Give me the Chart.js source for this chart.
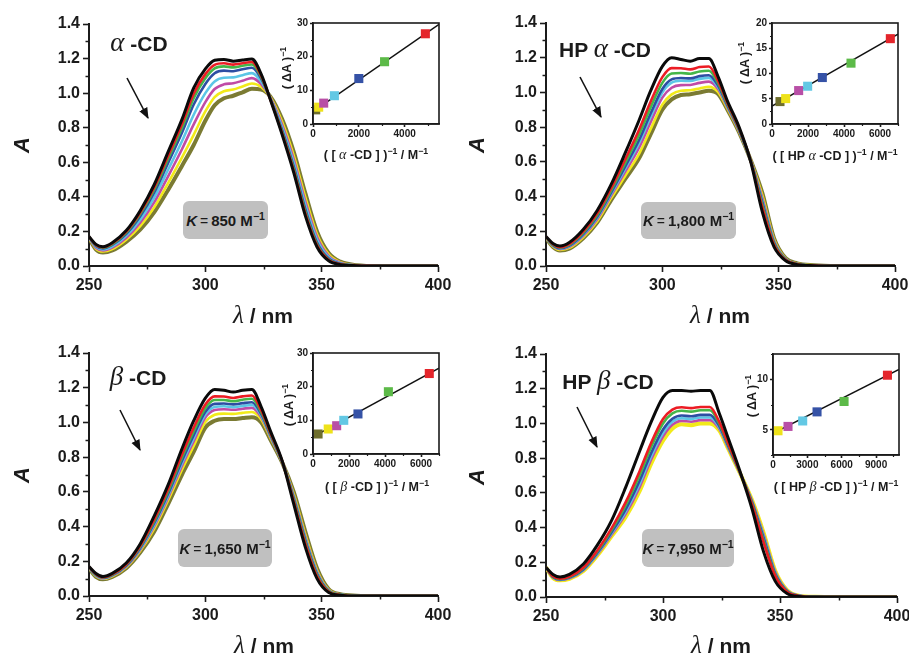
<!DOCTYPE html>
<html>
<head>
<meta charset="utf-8">
<title>CD titration spectra</title>
<script src="https://cdn.jsdelivr.net/npm/chart.js@4.4.1/dist/chart.umd.min.js"></script>
<style>
  html, body { margin: 0; padding: 0; background: #fff; }
  body { position: relative; width: 909px; height: 655px; overflow: hidden;
         font-family: 'Liberation Sans', Arial, sans-serif; color: #1b1b1b; }
  canvas { position: absolute; }
  .t { position: absolute; transform: translate(-50%, -50%); white-space: nowrap; font-weight: bold; }
  .rot { transform: translate(-50%, -50%) rotate(-90deg); }
  .gr { font-family: 'Liberation Serif', 'DejaVu Serif', serif; font-style: italic; font-weight: normal; }
  .xt { font-size: 21px; }
  .xt .gr { font-size: 25px; }
  .yt { font-size: 22px; font-style: italic; }
  .tag { font-size: 21px; }
  .tag .gr { font-size: 27px; }
  .ins { font-size: 12.5px; }
  .ins .gr { font-size: 14px; }
  .kbox { position: absolute; background: #c0c0c0; border-radius: 6px; display: flex;
          align-items: center; justify-content: center; font-weight: bold; font-size: 15px; }
  .kbox i { font-style: italic; margin-right: 3px; }
  .kbox .eq { font-weight: normal; font-size: 14px; margin-right: 3px; }
  sup { font-size: 0.7em; vertical-align: 0.6em; line-height: 0; }
</style>
</head>
<body>
<canvas id="alphaMain" width="460" height="330" style="left:0;top:0"></canvas>
<canvas id="hpAlphaMain" width="460" height="330" style="left:455px;top:0"></canvas>
<canvas id="betaMain" width="460" height="325" style="left:0;top:330px"></canvas>
<canvas id="hpBetaMain" width="460" height="325" style="left:455px;top:330px"></canvas>

<canvas id="alphaInset" width="158" height="132" style="left:291px;top:12px"></canvas>
<canvas id="hpAlphaInset" width="158" height="132" style="left:750px;top:12px"></canvas>
<canvas id="betaInset" width="158" height="132" style="left:291px;top:342px"></canvas>
<canvas id="hpBetaInset" width="158" height="132" style="left:751px;top:343px"></canvas>

<!-- axis titles -->
<div class="t xt" style="left:263px;top:315px"><span class="gr">λ</span> / nm</div>
<div class="t xt" style="left:720px;top:315px"><span class="gr">λ</span> / nm</div>
<div class="t xt" style="left:264px;top:645px"><span class="gr">λ</span> / nm</div>
<div class="t xt" style="left:721px;top:645px"><span class="gr">λ</span> / nm</div>
<div class="t yt rot" style="left:22px;top:145px">A</div>
<div class="t yt rot" style="left:477px;top:145px">A</div>
<div class="t yt rot" style="left:22px;top:475px">A</div>
<div class="t yt rot" style="left:477px;top:477px">A</div>

<!-- host labels -->
<div class="t tag" style="left:139px;top:42px"><span class="gr">α</span> -CD</div>
<div class="t tag" style="left:605px;top:48px">HP <span class="gr">α</span> -CD</div>
<div class="t tag" style="left:138px;top:376px"><span class="gr">β</span> -CD</div>
<div class="t tag" style="left:608px;top:380px">HP <span class="gr">β</span> -CD</div>

<!-- binding constants -->
<div class="kbox" style="left:183px;top:201px;width:85px;height:38px"><span><i>K</i><span class="eq">=</span>850 M<sup>−1</sup></span></div>
<div class="kbox" style="left:641px;top:202px;width:95px;height:37px"><span><i>K</i><span class="eq">=</span>1,800 M<sup>−1</sup></span></div>
<div class="kbox" style="left:178px;top:529px;width:94px;height:38px"><span><i>K</i><span class="eq">=</span>1,650 M<sup>−1</sup></span></div>
<div class="kbox" style="left:642px;top:529px;width:92px;height:38px"><span><i>K</i><span class="eq">=</span>7,950 M<sup>−1</sup></span></div>

<!-- inset titles -->
<div class="t ins rot" style="left:287px;top:68px">( ΔA )<sup>−1</sup></div>
<div class="t ins rot" style="left:745px;top:63px">( ΔA )<sup>−1</sup></div>
<div class="t ins rot" style="left:289px;top:405px">( ΔA )<sup>−1</sup></div>
<div class="t ins rot" style="left:752px;top:396px">( ΔA )<sup>−1</sup></div>
<div class="t ins" style="left:376px;top:155px">( [ <span class="gr">α</span> -CD ] )<sup>−1</sup> / M<sup>−1</sup></div>
<div class="t ins" style="left:835px;top:156px">( [ HP <span class="gr">α</span> -CD ] )<sup>−1</sup> / M<sup>−1</sup></div>
<div class="t ins" style="left:377px;top:487px">( [ <span class="gr">β</span> -CD ] )<sup>−1</sup> / M<sup>−1</sup></div>
<div class="t ins" style="left:836px;top:487px">( [ HP <span class="gr">β</span> -CD ] )<sup>−1</sup> / M<sup>−1</sup></div>

<!-- arrows showing the direction of change -->
<svg width="909" height="655" style="position:absolute;left:0;top:0;pointer-events:none">
  <defs>
    <marker id="ah" viewBox="0 0 10 10" refX="9" refY="5" markerWidth="7" markerHeight="7" orient="auto">
      <path d="M0,1 L10,5 L0,9 z" fill="#111"/>
    </marker>
  </defs>
  <line x1="127" y1="78" x2="148" y2="118" stroke="#111" stroke-width="1.6" marker-end="url(#ah)"/>
  <line x1="580" y1="77" x2="601" y2="117" stroke="#111" stroke-width="1.6" marker-end="url(#ah)"/>
  <line x1="120" y1="410" x2="140" y2="450" stroke="#111" stroke-width="1.6" marker-end="url(#ah)"/>
  <line x1="577" y1="407" x2="597" y2="447" stroke="#111" stroke-width="1.6" marker-end="url(#ah)"/>
</svg>

<script>
// wavelengths (nm) shared by every spectrum
const wavelengths = [250, 253, 256, 260, 266, 272, 278, 284, 290, 295, 300, 304, 308, 312, 316, 320, 324, 328, 333, 338, 343, 348, 353, 358, 365, 375, 400];

// alpha-CD titration
const alphaBlack   = [.17, .125, .112, .135, .205, .32, .47, .66, .85, 1.03, 1.14, 1.19, 1.195, 1.185, 1.192, 1.197, 1.11, .96, .76, .54, .29, .11, .03, .008, .002, 0, 0];
const alphaRed     = [.169, .122, .109, .131, .199, .309, .454, .638, .823, .997, 1.11, 1.164, 1.173, 1.165, 1.173, 1.18, 1.101, .962, .769, .552, .303, .119, .035, .010, .002, 0, 0];
const alphaGreen   = [.168, .120, .106, .127, .193, .300, .441, .620, .801, .971, 1.086, 1.143, 1.155, 1.149, 1.158, 1.166, 1.094, .964, .776, .562, .313, .126, .038, .011, .003, 0, 0];
const alphaBlue    = [.167, .116, .102, .122, .186, .288, .424, .596, .772, .934, 1.053, 1.115, 1.130, 1.127, 1.138, 1.147, 1.084, .966, .786, .575, .328, .136, .043, .013, .003, 0, 0];
const alphaCyan    = [.165, .111, .096, .114, .174, .268, .395, .557, .723, .875, 1.0, 1.068, 1.089, 1.091, 1.104, 1.116, 1.068, .969, .802, .596, .351, .152, .051, .016, .003, 0, 0];
const alphaMagenta = [.164, .106, .090, .106, .163, .250, .368, .519, .677, .819, .948, 1.024, 1.051, 1.057, 1.072, 1.087, 1.052, .973, .818, .617, .373, .168, .059, .019, .004, 0, 0];
const alphaYellow  = [.162, .100, .084, .098, .152, .230, .339, .480, .629, .759, .894, .977, 1.011, 1.021, 1.039, 1.056, 1.036, .976, .834, .638, .397, .184, .067, .022, .004, 0, 0];
const alphaOlive   = [.16, .095, .078, .09, .14, .21, .31, .44, .58, .70, .84, .93, .97, .985, 1.005, 1.025, 1.02, .98, .85, .66, .42, .20, .075, .025, .005, 0, 0];

// HP-alpha-CD titration
const hpAlphaBlack   = [.17, .13, .115, .135, .21, .32, .47, .65, .84, 1.01, 1.15, 1.2, 1.19, 1.18, 1.195, 1.195, 1.09, .95, .80, .60, .31, .11, .03, .008, .002, 0, 0];
const hpAlphaRed     = [.168, .125, .109, .126, .198, .303, .448, .613, .785, .948, 1.088, 1.14, 1.139, 1.133, 1.146, 1.149, 1.065, .938, .793, .603, .338, .123, .034, .010, .003, 0, 0];
const hpAlphaGreen   = [.166, .122, .106, .122, .191, .293, .436, .593, .756, .915, 1.055, 1.109, 1.112, 1.108, 1.121, 1.125, 1.052, .931, .789, .604, .352, .129, .036, .011, .003, 0, 0];
const hpAlphaBlue    = [.165, .120, .102, .117, .184, .284, .423, .572, .726, .880, 1.02, 1.075, 1.083, 1.081, 1.094, 1.099, 1.038, .924, .784, .605, .367, .136, .038, .012, .003, 0, 0];
const hpAlphaCyan    = [.164, .118, .10, .114, .18, .278, .416, .56, .708, .86, 1.0, 1.056, 1.067, 1.066, 1.078, 1.084, 1.03, .92, .782, .606, .376, .14, .039, .012, .003, 0, 0];
const hpAlphaMagenta = [.163, .116, .097, .11, .174, .27, .405, .542, .682, .83, .97, 1.027, 1.042, 1.043, 1.055, 1.062, 1.018, .914, .778, .607, .389, .146, .041, .013, .003, 0, 0];
const hpAlphaYellow  = [.161, .112, .093, .104, .166, .258, .391, .518, .646, .79, .93, .989, 1.01, 1.013, 1.023, 1.032, 1.002, .906, .774, .609, .407, .154, .043, .014, .004, 0, 0];
const hpAlphaOlive   = [.16, .11, .09, .10, .16, .25, .38, .50, .62, .76, .90, .96, .985, .99, 1.0, 1.01, .99, .90, .77, .61, .42, .16, .045, .015, .004, 0, 0];

// beta-CD titration
const betaBlack   = [.17, .13, .112, .13, .19, .30, .46, .64, .85, 1.01, 1.14, 1.19, 1.185, 1.175, 1.185, 1.19, 1.09, .95, .78, .53, .28, .10, .02, .005, 0, 0, 0];
const betaRed     = [.168, .126, .108, .126, .183, .289, .44, .616, .817, .97, 1.103, 1.15, 1.149, 1.141, 1.15, 1.155, 1.07, .939, .778, .545, .30, .113, .024, .006, 0, 0, 0];
const betaGreen   = [.167, .123, .107, .123, .18, .283, .429, .603, .799, .949, 1.082, 1.129, 1.129, 1.122, 1.131, 1.136, 1.059, .933, .777, .554, .311, .12, .027, .007, .001, 0, 0];
const betaBlue    = [.165, .121, .105, .121, .176, .277, .419, .589, .781, .927, 1.062, 1.107, 1.109, 1.104, 1.111, 1.116, 1.049, .927, .775, .562, .321, .128, .029, .007, .001, 0, 0];
const betaCyan    = [.164, .119, .103, .119, .173, .272, .41, .578, .766, .909, 1.045, 1.089, 1.093, 1.088, 1.095, 1.10, 1.04, .922, .774, .569, .33, .134, .031, .008, .001, 0, 0];
const betaMagenta = [.163, .117, .101, .117, .17, .267, .401, .567, .751, .891, 1.028, 1.071, 1.076, 1.073, 1.079, 1.084, 1.031, .917, .773, .576, .339, .14, .033, .008, .001, 0, 0];
const betaYellow  = [.162, .114, .099, .114, .166, .26, .387, .551, .729, .864, 1.002, 1.044, 1.051, 1.049, 1.055, 1.06, 1.017, .91, .772, .587, .353, .149, .036, .009, .002, 0, 0];
const betaOlive   = [.16, .11, .096, .11, .16, .25, .37, .53, .70, .83, .97, 1.01, 1.02, 1.02, 1.025, 1.03, 1.0, .90, .77, .60, .37, .16, .04, .01, .002, 0, 0];

// HP-beta-CD titration
const hpBetaBlack   = [.17, .13, .115, .13, .19, .30, .44, .63, .84, 1.01, 1.15, 1.19, 1.19, 1.185, 1.19, 1.19, 1.06, .91, .72, .51, .26, .09, .02, .003, 0, 0, 0];
const hpBetaRed     = [.17, .12, .106, .118, .17, .27, .395, .545, .725, .89, 1.025, 1.08, 1.093, 1.088, 1.095, 1.095, 1.01, .88, .715, .535, .315, .12, .03, .006, 0, 0, 0];
const hpBetaGreen   = [.17, .118, .104, .115, .166, .264, .386, .528, .702, .866, 1.0, 1.058, 1.073, 1.068, 1.076, 1.076, 1.0, .874, .714, .54, .326, .126, .032, .006, .001, 0, 0];
const hpBetaBlue    = [.17, .115, .101, .112, .16, .256, .373, .504, .67, .832, .965, 1.027, 1.046, 1.041, 1.049, 1.049, .986, .866, .713, .547, .341, .134, .035, .007, .001, 0, 0];
const hpBetaCyan    = [.17, .114, .099, .11, .157, .251, .366, .491, .651, .813, .945, 1.01, 1.03, 1.025, 1.034, 1.034, .978, .861, .712, .551, .35, .139, .036, .007, .001, 0, 0];
const hpBetaMagenta = [.17, .112, .098, .108, .154, .246, .359, .477, .633, .794, .925, .992, 1.015, 1.01, 1.019, 1.019, .97, .856, .711, .555, .359, .144, .038, .008, .001, 0, 0];
const hpBetaYellow  = [.17, .11, .096, .105, .15, .24, .35, .46, .61, .77, .90, .97, .995, .99, 1.0, 1.0, .96, .85, .71, .56, .37, .15, .04, .008, .001, 0, 0];

// double-reciprocal plots: 1/[host] (M^-1) vs 1/dA
const alphaInvConc = [117, 248, 467, 934, 2000, 3124, 4905];
const alphaInvDA   = [4.2, 5.0, 6.2, 8.4, 13.5, 18.5, 26.8];
const alphaFitX    = [0, 5500];
const alphaFitY    = [3.65, 29.6];

const hpAlphaInvConc = [444, 759, 1481, 1981, 2796, 4389, 6574];
const hpAlphaInvDA   = [4.44, 5.03, 6.62, 7.48, 9.2, 12.05, 16.9];
const hpAlphaFitX    = [0, 7000];
const hpAlphaFitY    = [3.54, 17.8];

const betaInvConc = [282, 845, 1315, 1709, 2498, 4188, 6460];
const betaInvDA   = [5.94, 7.43, 8.4, 10.0, 11.9, 18.5, 23.9];
const betaFitX    = [0, 7000];
const betaFitY    = [5.12, 25.5];

const hpBetaInvConc = [437, 1311, 2592, 3845, 6204, 9990];
const hpBetaInvDA   = [4.9, 5.33, 5.87, 6.77, 7.8, 10.4];
const hpBetaFitX    = [0, 11000];
const hpBetaFitY    = [4.65, 10.98];

// tick positions
const mainXTicks = [250, 275, 300, 325, 350, 375, 400];
const mainYTicks = [0, 0.1, 0.2, 0.3, 0.4, 0.5, 0.6, 0.7, 0.8, 0.9, 1.0, 1.1, 1.2, 1.3, 1.4];
const alphaInsetXTicks   = [0, 1000, 2000, 3000, 4000, 5000];
const alphaInsetYTicks   = [0, 5, 10, 15, 20, 25, 30];
const hpAlphaInsetXTicks = [0, 1000, 2000, 3000, 4000, 5000, 6000, 7000];
const hpAlphaInsetYTicks = [0, 2.5, 5, 7.5, 10, 12.5, 15, 17.5, 20];
const betaInsetXTicks    = [0, 1000, 2000, 3000, 4000, 5000, 6000, 7000];
const betaInsetYTicks    = [0, 5, 10, 15, 20, 25, 30];
const hpBetaInsetXTicks  = [0, 1500, 3000, 4500, 6000, 7500, 9000, 10500];
const hpBetaInsetYTicks  = [2.5, 5, 7.5, 10, 12.5];

const lineColors = ['#0a0a0a', '#ec1c24', '#45b649', '#2d4ea3', '#5cc6e6', '#c04ba6', '#f2ea1a', '#7b7b33'];
const hpBetaColors = ['#0a0a0a', '#ec1c24', '#45b649', '#2d4ea3', '#5cc6e6', '#c04ba6', '#f2ea1a'];
const markerColors = ['#6e6e2c', '#eee21a', '#b84fa6', '#63c8e4', '#3552a6', '#5cba48', '#e4252b'];
const hpBetaMarkers = ['#eee21a', '#b84fa6', '#63c8e4', '#3552a6', '#5cba48', '#e4252b'];

const INK = '#1b1b1b';
const FONT = "'Liberation Sans', Arial, sans-serif";

function isMajor(v, step) {
  const r = v / step;
  return Math.abs(r - Math.round(r)) < 1e-6;
}

// only labelled ticks get the long tick mark; the short ones come from the plugin
function majorTickColor(ctx) {
  return ctx.tick && ctx.tick.label === '' ? 'rgba(0,0,0,0)' : INK;
}

const minorTicks = {
  id: 'minorTicks',
  afterDraw(chart, args, opts) {
    const { ctx, chartArea } = chart;
    ctx.save();
    ctx.strokeStyle = INK;
    ctx.lineWidth = opts.width || 1.5;
    for (const scale of Object.values(chart.scales)) {
      scale.ticks.forEach(tick => {
        if (tick.label !== '') return;
        const p = Math.round(scale.getPixelForValue(tick.value)) + 0.5;
        ctx.beginPath();
        if (scale.isHorizontal()) {
          ctx.moveTo(p, chartArea.bottom);
          ctx.lineTo(p, chartArea.bottom + opts.length);
        } else {
          ctx.moveTo(chartArea.left, p);
          ctx.lineTo(chartArea.left - opts.length, p);
        }
        ctx.stroke();
      });
    }
    if (opts.frame) {
      ctx.lineWidth = 1.6;
      ctx.strokeRect(chartArea.left, chartArea.top, chartArea.right - chartArea.left, chartArea.bottom - chartArea.top);
    }
    ctx.restore();
  }
};

function linearAxis(min, max, tickValues, majorStep, digits, fontSize, tickLen, pad, afterFit, borderWidth) {
  return {
    type: 'linear',
    min: min,
    max: max,
    afterBuildTicks: s => { s.ticks = tickValues.map(v => ({ value: v })); },
    afterFit: afterFit,
    ticks: {
      autoSkip: false,
      maxRotation: 0,
      minRotation: 0,
      padding: pad,
      color: INK,
      font: { family: FONT, size: fontSize, weight: 'bold' },
      callback: v => isMajor(v, majorStep) ? v.toFixed(digits) : ''
    },
    grid: { drawOnChartArea: false, drawTicks: true, tickLength: tickLen, tickWidth: 1.6, tickColor: majorTickColor },
    border: { display: true, color: INK, width: borderWidth }
  };
}

function spectrumChart(id, area, series, colors) {
  const canvas = document.getElementById(id);
  const W = canvas.width, H = canvas.height;
  const last = series.length - 1;
  return new Chart(canvas, {
    type: 'line',
    data: {
      datasets: series.map((ys, i) => ({
        data: ys.map((y, k) => ({ x: wavelengths[k], y: y })),
        borderColor: colors[i],
        borderWidth: i === 0 ? 3 : (i === last ? 4 : 2.6),
        pointRadius: 0,
        fill: false,
        cubicInterpolationMode: 'monotone'
      }))
    },
    options: {
      responsive: false,
      animation: false,
      layout: { padding: { left: 0, top: area.top, right: W - area.right, bottom: 0 } },
      plugins: { legend: { display: false }, tooltip: { enabled: false }, minorTicks: { length: 3.5, width: 1.5 } },
      scales: {
        x: linearAxis(250, 400, mainXTicks, 50, 0, 16, 6, 4, s => { s.height = H - area.bottom; }, 2),
        y: linearAxis(0, 1.4, mainYTicks, 0.2, 1, 16, 6, 3, s => { s.width = area.left; }, 2)
      }
    },
    plugins: [minorTicks]
  });
}

function insetChart(id, invConc, invDA, colors, fitX, fitY, xr, yr) {
  const canvas = document.getElementById(id);
  const W = canvas.width, H = canvas.height;
  const area = { left: 22, right: 148, top: 11, bottom: 112 };
  return new Chart(canvas, {
    type: 'scatter',
    data: {
      datasets: [
        {
          data: invConc.map((x, i) => ({ x: x, y: invDA[i] })),
          pointStyle: 'rect',
          pointRadius: 6.4,
          borderWidth: 0,
          backgroundColor: colors
        },
        {
          type: 'line',
          data: fitX.map((x, i) => ({ x: x, y: fitY[i] })),
          borderColor: '#111',
          borderWidth: 1.4,
          pointRadius: 0,
          fill: false
        }
      ]
    },
    options: {
      responsive: false,
      animation: false,
      layout: { padding: { left: 0, top: area.top, right: W - area.right, bottom: 0 } },
      plugins: { legend: { display: false }, tooltip: { enabled: false }, minorTicks: { length: 2, width: 1.2, frame: true } },
      scales: {
        x: linearAxis(xr.min, xr.max, xr.ticks, xr.major, 0, 10, 3, 1, s => { s.height = H - area.bottom; }, 1.6),
        y: linearAxis(yr.min, yr.max, yr.ticks, yr.major, 0, 10, 3, 2, s => { s.width = area.left; }, 1.6)
      }
    },
    plugins: [minorTicks]
  });
}

spectrumChart('alphaMain', { left: 89, right: 438, top: 24, bottom: 266 },
  [alphaBlack, alphaRed, alphaGreen, alphaBlue, alphaCyan, alphaMagenta, alphaYellow, alphaOlive], lineColors);
spectrumChart('hpAlphaMain', { left: 91, right: 440, top: 23, bottom: 266 },
  [hpAlphaBlack, hpAlphaRed, hpAlphaGreen, hpAlphaBlue, hpAlphaCyan, hpAlphaMagenta, hpAlphaYellow, hpAlphaOlive], lineColors);
spectrumChart('betaMain', { left: 89, right: 438, top: 23, bottom: 266 },
  [betaBlack, betaRed, betaGreen, betaBlue, betaCyan, betaMagenta, betaYellow, betaOlive], lineColors);
spectrumChart('hpBetaMain', { left: 91, right: 442, top: 24, bottom: 267 },
  [hpBetaBlack, hpBetaRed, hpBetaGreen, hpBetaBlue, hpBetaCyan, hpBetaMagenta, hpBetaYellow], hpBetaColors);

insetChart('alphaInset', alphaInvConc, alphaInvDA, markerColors, alphaFitX, alphaFitY,
  { min: 0, max: 5500, ticks: alphaInsetXTicks, major: 2000 },
  { min: 0, max: 30, ticks: alphaInsetYTicks, major: 10 });
insetChart('hpAlphaInset', hpAlphaInvConc, hpAlphaInvDA, markerColors, hpAlphaFitX, hpAlphaFitY,
  { min: 0, max: 7000, ticks: hpAlphaInsetXTicks, major: 2000 },
  { min: 0, max: 20, ticks: hpAlphaInsetYTicks, major: 5 });
insetChart('betaInset', betaInvConc, betaInvDA, markerColors, betaFitX, betaFitY,
  { min: 0, max: 7000, ticks: betaInsetXTicks, major: 2000 },
  { min: 0, max: 30, ticks: betaInsetYTicks, major: 10 });
insetChart('hpBetaInset', hpBetaInvConc, hpBetaInvDA, hpBetaMarkers, hpBetaFitX, hpBetaFitY,
  { min: 0, max: 11000, ticks: hpBetaInsetXTicks, major: 3000 },
  { min: 2.5, max: 12.5, ticks: hpBetaInsetYTicks, major: 5 });
</script>
</body>
</html>
